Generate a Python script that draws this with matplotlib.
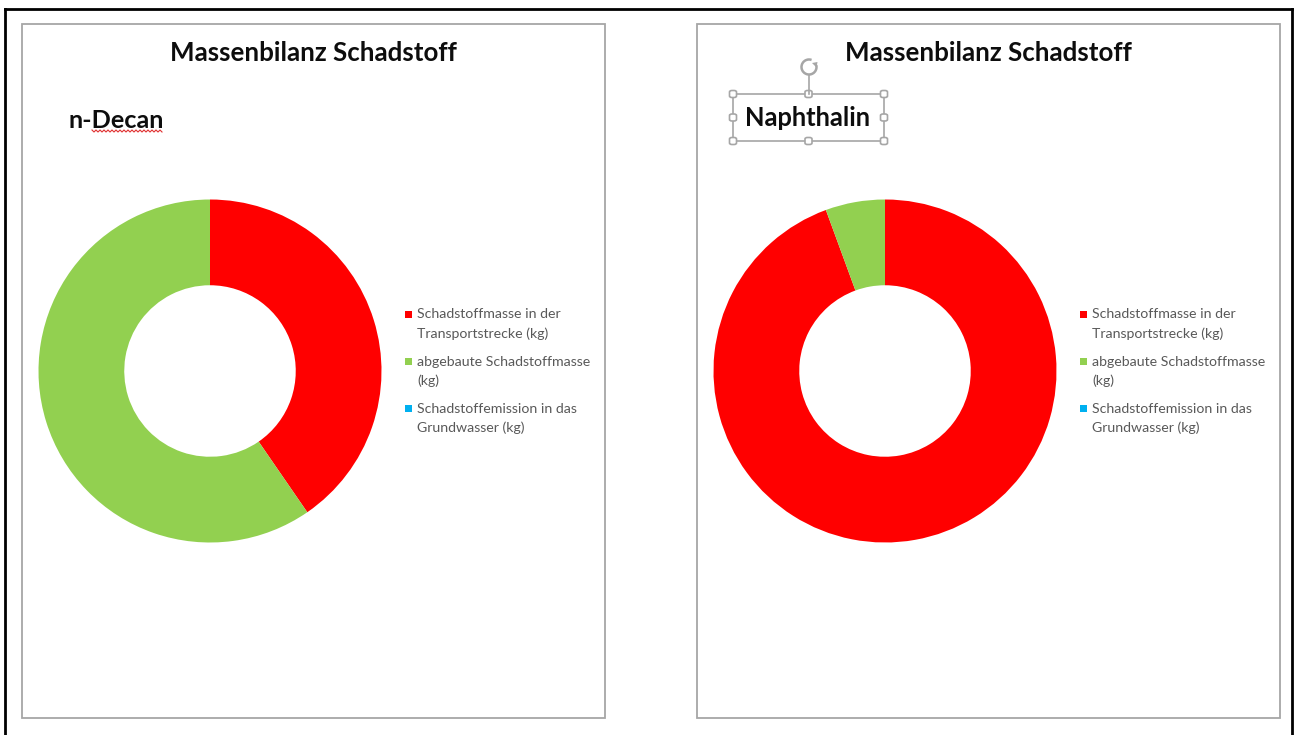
import matplotlib.pyplot as plt
from matplotlib.patches import Rectangle, FancyBboxPatch, Arc, Polygon
from matplotlib.lines import Line2D

# Mass balance data (shares per pollutant)
categories = ["Schadstoffmasse in der\nTransportstrecke (kg)",
              "abgebaute Schadstoffmasse\n(kg)",
              "Schadstoffemission in das\nGrundwasser (kg)"]
colors = ["#FF0000", "#92D050", "#00B0F0"]
decan_values = [40.4, 59.6, 0.0]
naphthalin_values = [94.4, 5.6, 0.0]
chart_title = "Massenbilanz Schadstoff"

W, H = 1299, 735
fig = plt.figure(figsize=(W / 100, H / 100), dpi=100)
plt.rcParams['font.family'] = ['Lato', 'DejaVu Sans']

def fx(x):
    return x / W

def fy(y):
    return 1 - y / H

# outer frame (no bottom edge)
for xs, ys in [([5, 5], [9, 735]), ([5, 1292], [9, 9]), ([1292, 1292], [9, 735])]:
    fig.add_artist(Line2D([fx(v) for v in xs], [fy(v) for v in ys],
                          color="black", lw=2, transform=fig.transFigure))

def draw_panel(x0, values):
    # panel border
    fig.add_artist(Rectangle((fx(x0), fy(718)), fx(583), 694 / H, fill=False,
                             ec="#A6A6A6", lw=1.3, transform=fig.transFigure))
    fig.text(fx(x0 + 291.5), fy(53), chart_title, ha="center", va="center",
             fontsize=18.6, fontweight="bold", color="#0D0D0D")

    # donut
    cx, cy, R = x0 + 188, 371, 171.5
    ax = fig.add_axes([fx(cx - R), (H - cy - R) / H, 2 * R / W, 2 * R / H])
    ax.pie(values, colors=colors, startangle=90, counterclock=False, radius=1,
           wedgeprops=dict(width=0.5, linewidth=0))
    ax.set_xlim(-1, 1)
    ax.set_ylim(-1, 1)
    ax.set_aspect("equal")
    ax.axis("off")

    # legend
    lx = x0 + 383
    for i, (label, c) in enumerate(zip(categories, colors)):
        y0 = 314.5 + 47 * i
        fig.add_artist(Rectangle((fx(lx), fy(y0 + 3.5)), 7 / W, 7 / H, fc=c, ec="none",
                                 transform=fig.transFigure))
        for j, line in enumerate(label.split("\n")):
            fig.text(fx(lx + 12), fy(y0 + 19 * j), line, ha="left", va="center",
                     fontsize=10.2, color="#595959")

# left chart
draw_panel(22, decan_values)
fig.text(fx(68), fy(120), "n-Decan", ha="left", va="center", fontsize=18.2,
         fontweight="bold", color="#0D0D0D")
# spell-check underline
zx = list(range(92, 163, 2))
zy = [131 + (1 if k % 2 else -1) for k in range(len(zx))]
fig.add_artist(Line2D([fx(v) for v in zx], [fy(v) for v in zy], color="#E03030",
                      lw=0.8, transform=fig.transFigure))

# right chart
draw_panel(697, naphthalin_values)
fig.text(fx(807.5), fy(118), "Naphthalin", ha="center", va="center", fontsize=18.4,
         fontweight="bold", color="#0D0D0D")

# selected text box with handles
bx0, by0, bx1, by1 = 733, 94, 884, 141
fig.add_artist(Rectangle((fx(bx0), fy(by1)), (bx1 - bx0) / W, (by1 - by0) / H, fill=False,
                         ec="#A6A6A6", lw=1.2, transform=fig.transFigure))
fig.add_artist(Line2D([fx(808.5), fx(808.5)], [fy(75), fy(94)], color="#A6A6A6", lw=1.2,
                      transform=fig.transFigure))
bxm, bym = (bx0 + bx1) / 2, (by0 + by1) / 2
for hx, hy in [(bx0, by0), (bxm, by0), (bx1, by0), (bx0, bym), (bx1, bym),
               (bx0, by1), (bxm, by1), (bx1, by1)]:
    fig.add_artist(FancyBboxPatch((fx(hx - 3.5), fy(hy + 3.5)), 7 / W, 7 / H,
                                  boxstyle="round,pad=0,rounding_size=0.002",
                                  fc="white", ec="#A6A6A6", lw=1.2,
                                  transform=fig.transFigure))

# rotate handle
rax = fig.add_axes([fx(797), fy(79), 24 / W, 24 / H])
rax.set_xlim(-12, 12)
rax.set_ylim(-12, 12)
rax.axis("off")
rax.add_patch(Arc((0, 0), 15, 15, theta1=70, theta2=375, color="#A6A6A6", lw=1.8))
rax.add_patch(Polygon([(8.5, 5.0), (3.0, 4.0), (7.5, -0.5)], closed=True,
                      fc="#A6A6A6", ec="none"))

fig.savefig("out.png", dpi=100)
